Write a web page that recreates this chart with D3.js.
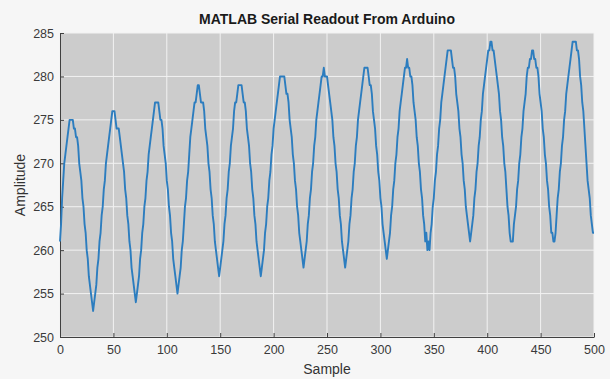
<!DOCTYPE html>
<html>
<head>
<meta charset="utf-8">
<script src="https://cdnjs.cloudflare.com/ajax/libs/d3/7.8.5/d3.min.js"></script>
<style>
  body { margin: 0; background: #f6f6f6; }
  text { font-family: "Liberation Sans", Arial, sans-serif; }
</style>
</head>
<body>
<div id="chart"></div>
<script>
// readings from the serial port, one per sample (0..500)
var amplitude = [
  261,263,266,268,270,271,272,273,274,275,275,
  275,275,274,274,273,273,272,270,269,268,266,265,263,262,260,259,257,256,255,254,253,
  254,255,256,258,259,261,262,264,265,267,268,270,271,272,273,274,275,276,276,276,
  275,274,274,274,273,272,271,270,269,267,266,264,263,261,260,258,257,256,255,254,
  255,256,257,259,260,262,263,265,266,268,269,271,272,273,274,275,276,277,277,
  277,277,276,275,275,274,272,271,270,268,267,265,264,262,261,259,258,257,256,255,
  256,257,258,260,261,263,265,266,268,269,271,273,274,275,276,277,277,278,279,279,
  278,277,277,277,276,274,273,272,270,269,267,266,264,263,261,260,259,258,257,
  258,259,260,261,263,264,266,267,269,270,272,273,274,276,277,277,278,279,279,
  279,279,278,277,277,276,274,273,272,270,269,267,266,264,263,261,260,259,258,257,
  258,259,260,262,263,265,266,268,269,271,272,274,275,276,277,278,279,280,280,280,
  280,280,279,278,278,277,275,274,273,271,270,268,267,265,264,262,261,260,259,258,
  259,260,261,263,264,266,267,269,270,272,273,275,276,277,278,279,280,280,281,
  280,280,280,279,278,277,276,275,273,272,270,269,267,266,264,263,261,260,259,258,
  259,260,261,263,264,266,267,269,270,272,273,275,276,277,278,279,280,281,281,
  281,281,280,279,279,278,276,275,274,272,271,269,268,266,265,263,262,261,260,259,
  260,261,262,264,265,267,268,270,271,273,274,276,277,278,279,280,281,281,282,
  281,281,280,280,279,277,276,275,273,272,270,269,267,266,264,263,261,262,260,
  261,260,262,263,265,266,268,269,271,272,274,275,277,278,279,280,281,282,283,283,
  283,283,282,281,281,280,278,277,276,274,273,271,270,268,267,265,264,263,262,261,
  262,263,264,266,267,269,270,272,273,275,276,278,279,280,281,282,283,283,284,284,
  283,283,282,281,280,279,278,276,275,273,272,270,269,267,265,264,262,261,261,
  261,263,264,265,267,268,270,271,273,274,276,277,278,280,281,281,282,282,283,283,
  282,282,281,281,280,278,277,276,274,273,271,270,268,267,265,264,262,262,261,
  261,262,264,266,267,269,270,272,273,275,276,278,279,280,281,282,283,284,284,284,
  284,283,283,282,280,279,277,276,274,272,270,268,267,266,264,263,262,262
];
var xTicks = [0, 50, 100, 150, 200, 250, 300, 350, 400, 450, 500];
var yTicks = [250, 255, 260, 265, 270, 275, 280, 285];

var width = 610,
  height = 379;
var margin = {top: 33, right: 16, bottom: 42, left: 60};

var svg = d3.select('#chart')
  .append('svg')
  .attr('width', width)
  .attr('height', height)

var x = d3.scaleLinear()
  .domain([0, 500])
  .range([margin.left, width - margin.right]);

var y = d3.scaleLinear()
  .domain([250, 285])
  .range([height - margin.bottom, margin.top]);

// plot background
svg.append('rect')
  .attr('x', x(0))
  .attr('y', y(285))
  .attr('width', x(500) - x(0))
  .attr('height', y(250) - y(285))
  .attr('fill', '#cccccc')

// white grid
svg.append('g')
  .selectAll('line')
  .data(xTicks)
  .join('line')
  .attr('x1', d => x(d))
  .attr('x2', d => x(d))
  .attr('y1', y(250))
  .attr('y2', y(285))
  .attr('stroke', '#f2f2f2')
  .attr('stroke-width', 1)

svg.append('g')
  .selectAll('line')
  .data(yTicks)
  .join('line')
  .attr('x1', x(0))
  .attr('x2', x(500))
  .attr('y1', d => y(d))
  .attr('y2', d => y(d))
  .attr('stroke', '#f2f2f2')
  .attr('stroke-width', 1)

// axes, ticks pointing inward
var xAxis = svg.append('g')
  .attr('transform', 'translate(0,' + y(250) + ')')
  .call(d3.axisBottom(x).tickValues(xTicks).tickSizeInner(-4).tickSizeOuter(0).tickPadding(8))

var yAxis = svg.append('g')
  .attr('transform', 'translate(' + x(0) + ',0)')
  .call(d3.axisLeft(y).tickValues(yTicks).tickSizeInner(-4).tickSizeOuter(0).tickPadding(6))

svg.selectAll('.domain, .tick line')
  .attr('stroke', '#404040')
  .attr('stroke-width', 1)

svg.selectAll('.tick text')
  .attr('fill', '#3a3a3a')
  .style('font-size', '12.5px')

// the readout line
var line = d3.line()
  .x((d, i) => x(i))
  .y(d => y(d))

svg.append('path')
  .datum(amplitude)
  .attr('d', line)
  .attr('fill', 'none')
  .attr('stroke', '#2c7dbf')
  .attr('stroke-width', 1.9)
  .attr('stroke-linejoin', 'round')

// labels
svg.append('text')
  .attr('x', (x(0) + x(500)) / 2)
  .attr('y', 24)
  .attr('text-anchor', 'middle')
  .style('font-size', '14px')
  .style('font-weight', 'bold')
  .attr('fill', '#1a1a1a')
  .text('MATLAB Serial Readout From Arduino')

svg.append('text')
  .attr('x', (x(0) + x(500)) / 2)
  .attr('y', 374)
  .attr('text-anchor', 'middle')
  .style('font-size', '14px')
  .attr('fill', '#333')
  .text('Sample')

svg.append('text')
  .attr('transform', 'translate(25,' + (y(250) + y(285)) / 2 + ') rotate(-90)')
  .attr('text-anchor', 'middle')
  .style('font-size', '14px')
  .attr('fill', '#333')
  .text('Amplitude')
</script>
</body>
</html>
